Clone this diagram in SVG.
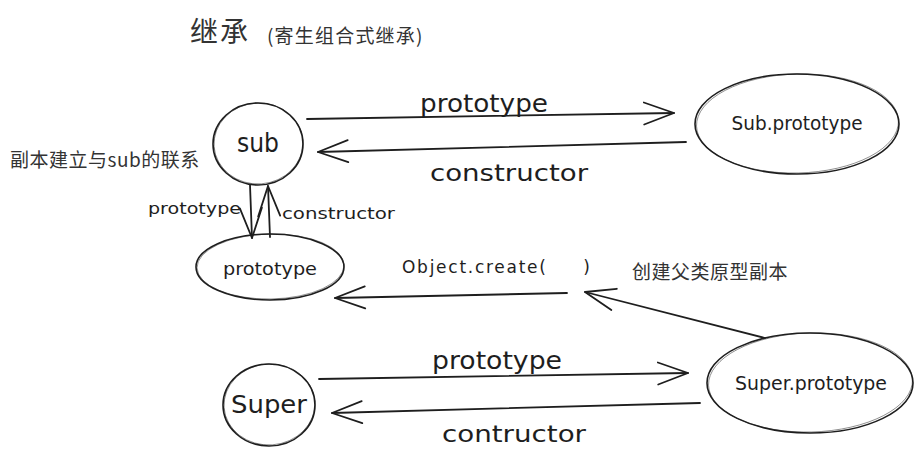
<svg xmlns="http://www.w3.org/2000/svg" width="923" height="461" viewBox="0 0 923 461">
<style>
.shape{fill:none;stroke:#1e1e1e;stroke-width:1.6}
.sk{fill:none;stroke:#1e1e1e;stroke-width:0.7;opacity:0.7}
.edge{fill:none;stroke:#1e1e1e;stroke-width:1.8;stroke-linecap:round}
.hand{font-family:"DejaVu Sans","Liberation Sans",sans-serif;fill:#1e1e1e}
.cjk{font-family:"Noto Sans CJK SC","Noto Sans",sans-serif;fill:#333333}
</style>
<defs>
<marker id="ah" markerUnits="userSpaceOnUse" markerWidth="40" markerHeight="30" refX="31" refY="12" orient="auto" viewBox="0 0 40 30" overflow="visible">
<path d="M1,1 L31,12 L1,23" fill="none" stroke="#1e1e1e" stroke-width="1.8" stroke-linecap="round" stroke-linejoin="round"/>
</marker>
</defs>
<rect width="923" height="461" fill="#ffffff"/>

<text class="cjk" x="190" y="42" font-size="28" letter-spacing="2">继承</text>
<text class="cjk" x="267" y="43" font-size="19" letter-spacing="1.2">(寄生组合式继承)</text>

<g id="edges">
<line class="edge" x1="307" y1="119" x2="674" y2="113" marker-end="url(#ah)"/>
<line class="edge" x1="686" y1="142" x2="318" y2="152" marker-end="url(#ah)"/>
<line class="edge" x1="250" y1="185" x2="252" y2="238" marker-end="url(#ah)"/>
<line class="edge" x1="270" y1="237" x2="268" y2="186" marker-end="url(#ah)"/>
<line class="edge" x1="567" y1="293" x2="335" y2="298" marker-end="url(#ah)"/>
<line class="edge" x1="765" y1="338" x2="585" y2="292" marker-end="url(#ah)"/>
<line class="edge" x1="319" y1="379" x2="688" y2="373" marker-end="url(#ah)"/>
<line class="edge" x1="700" y1="403" x2="332" y2="413" marker-end="url(#ah)"/>
<text class="hand" x="420" y="112" font-size="25" textLength="128" lengthAdjust="spacingAndGlyphs">prototype</text>
<text class="hand" x="430" y="181" font-size="23" textLength="158" lengthAdjust="spacingAndGlyphs">constructor</text>
<text class="hand" x="148" y="214" font-size="16" textLength="93" lengthAdjust="spacingAndGlyphs">prototype</text>
<text class="hand" x="282" y="219" font-size="16" textLength="113" lengthAdjust="spacingAndGlyphs">constructor</text>
<text class="hand" x="402" y="273" font-size="17" xml:space="preserve" textLength="188" lengthAdjust="spacing">Object.create(     )</text>
<text class="hand" x="432" y="369" font-size="25" textLength="130" lengthAdjust="spacingAndGlyphs">prototype</text>
<text class="hand" x="442" y="442" font-size="23" textLength="144" lengthAdjust="spacingAndGlyphs">contructor</text>
</g>

<text class="cjk" x="10" y="167" font-size="19" letter-spacing="0.5">副本建立与sub的联系</text>
<text class="cjk" x="632" y="279" font-size="19" letter-spacing="0.5">创建父类原型副本</text>

<g id="n-sub">
<ellipse class="shape" cx="258" cy="144" rx="45" ry="41"/>
<ellipse class="sk" cx="258.5" cy="143.5" rx="44.5" ry="40.5" transform="rotate(-4 258 144)"/>
<text class="hand" x="258" y="152" font-size="26" text-anchor="middle" textLength="42" lengthAdjust="spacingAndGlyphs">sub</text>
</g>

<g id="n-subproto">
<ellipse class="shape" cx="797" cy="124" rx="102" ry="50"/>
<ellipse class="sk" cx="797.5" cy="123.5" rx="101" ry="49.5" transform="rotate(-1.5 797 124)"/>
<text class="hand" x="797" y="130" font-size="19" text-anchor="middle" textLength="131" lengthAdjust="spacingAndGlyphs">Sub.prototype</text>
</g>

<g id="n-proto">
<ellipse class="shape" cx="270" cy="267" rx="74" ry="33"/>
<ellipse class="sk" cx="270.5" cy="266.5" rx="73.5" ry="32.5" transform="rotate(-1 270 267)"/>
<text class="hand" x="270" y="275" font-size="17" text-anchor="middle" textLength="94" lengthAdjust="spacingAndGlyphs">prototype</text>
</g>

<g id="n-super">
<ellipse class="shape" cx="269" cy="405" rx="46" ry="41"/>
<ellipse class="sk" cx="269.5" cy="404.5" rx="45.5" ry="40.5" transform="rotate(-4 269 405)"/>
<text class="hand" x="269" y="413" font-size="25" text-anchor="middle" textLength="76" lengthAdjust="spacingAndGlyphs">Super</text>
</g>

<g id="n-superproto">
<ellipse class="shape" cx="810" cy="383" rx="103" ry="50"/>
<ellipse class="sk" cx="810.5" cy="382.5" rx="102" ry="49.5" transform="rotate(-1.5 810 383)"/>
<text class="hand" x="811" y="390" font-size="19" text-anchor="middle" textLength="152" lengthAdjust="spacingAndGlyphs">Super.prototype</text>
</g>
</svg>
